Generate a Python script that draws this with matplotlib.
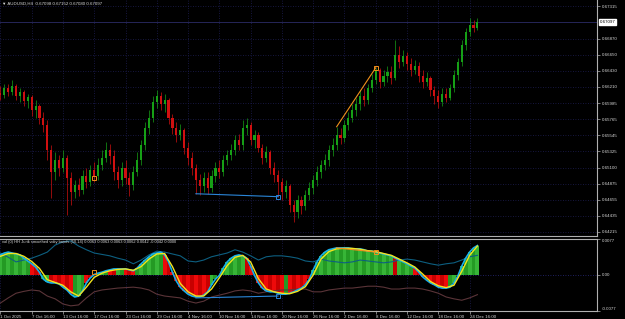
import numpy as np
import matplotlib
matplotlib.use("Agg")
import matplotlib.pyplot as plt
from matplotlib.transforms import blended_transform_factory

plt.rcParams['font.family'] = ['Liberation Sans', 'DejaVu Sans']

# AUDUSD, one candle per 12 hours, prices in pips (x 0.0001)
first_open = 6612
closes = [6610, 6619, 6614, 6622, 6608, 6614, 6601, 6607, 6589, 6595,
          6578, 6569, 6534, 6504, 6520, 6509, 6523, 6496, 6477, 6486,
          6479, 6498, 6490, 6507, 6498, 6514, 6523, 6534, 6526, 6504,
          6493, 6509, 6496, 6486, 6504, 6520, 6541, 6564, 6578, 6600,
          6608, 6597, 6603, 6578, 6564, 6555, 6562, 6537, 6523, 6509,
          6493, 6485, 6496, 6482, 6498, 6509, 6504, 6520, 6527, 6534,
          6548, 6541, 6564, 6569, 6548, 6555, 6537, 6523, 6531, 6509,
          6500, 6490, 6477, 6485, 6459, 6449, 6466, 6457, 6472, 6482,
          6493, 6504, 6514, 6520, 6534, 6541, 6555, 6551, 6569, 6578,
          6589, 6597, 6608, 6603, 6619, 6630, 6644, 6627, 6636, 6641,
          6633, 6665, 6655, 6663, 6652, 6644, 6649, 6636, 6627, 6633,
          6616, 6608, 6600, 6611, 6606, 6619, 6637, 6655, 6678, 6696,
          6706, 6702, 6710]
highs = [6622, 6625, 6625, 6630, 6625, 6619, 6616, 6611, 6610, 6603,
         6597, 6586, 6575, 6541, 6531, 6527, 6534, 6527, 6504, 6493,
         6496, 6507, 6509, 6514, 6518, 6523, 6534, 6545, 6542, 6534,
         6512, 6518, 6520, 6504, 6512, 6531, 6548, 6573, 6589, 6608,
         6616, 6614, 6611, 6606, 6584, 6573, 6570, 6564, 6545, 6531,
         6515, 6501, 6504, 6504, 6507, 6518, 6520, 6527, 6534, 6542,
         6555, 6556, 6575, 6578, 6573, 6562, 6559, 6542, 6540, 6534,
         6518, 6507, 6496, 6493, 6488, 6466, 6472, 6471, 6479, 6490,
         6500, 6512, 6520, 6529, 6541, 6551, 6566, 6564, 6575, 6586,
         6597, 6606, 6616, 6619, 6625, 6638, 6647, 6647, 6644, 6649,
         6649, 6685, 6677, 6671, 6669, 6660, 6658, 6655, 6644, 6641,
         6636, 6622, 6616, 6619, 6619, 6625, 6644, 6660, 6685, 6702,
         6715, 6713, 6715]
lows = [6603, 6606, 6608, 6610, 6603, 6600, 6595, 6592, 6581, 6578,
        6570, 6559, 6520, 6468, 6493, 6498, 6504, 6445, 6459, 6468,
        6471, 6474, 6482, 6485, 6490, 6493, 6507, 6518, 6515, 6493,
        6482, 6485, 6488, 6471, 6479, 6498, 6514, 6534, 6556, 6573,
        6592, 6589, 6586, 6570, 6556, 6545, 6548, 6529, 6514, 6500,
        6474, 6472, 6477, 6474, 6477, 6490, 6496, 6498, 6514, 6520,
        6527, 6534, 6534, 6555, 6541, 6537, 6531, 6515, 6518, 6501,
        6490, 6470, 6466, 6468, 6449, 6435, 6441, 6446, 6452, 6466,
        6474, 6485, 6496, 6507, 6512, 6526, 6534, 6542, 6545, 6562,
        6573, 6581, 6589, 6595, 6597, 6614, 6625, 6619, 6622, 6627,
        6625, 6630, 6647, 6649, 6644, 6636, 6638, 6627, 6619, 6622,
        6608, 6597, 6592, 6595, 6600, 6603, 6614, 6630, 6649, 6671,
        6691, 6696, 6699]

# oscillator, units of 0.0001
hist = [43, 47, 49, 47, 45, 43, 36, 30, 24, 17,
        6, -9, -15, -17, -17, -19, -26, -32, -41, -47,
        -45, -34, -17, -6, 1, 4, 6, 9, 11, 13,
        13, 13, 13, 11, 9, 15, 24, 32, 39, 45,
        47, 49, 43, 28, 6, -13, -26, -34, -41, -45,
        -47, -47, -43, -36, -21, -9, -1, 15, 28, 36,
        41, 43, 41, 36, 19, -1, -17, -28, -34, -36,
        -36, -39, -41, -41, -39, -36, -32, -28, -21, -9,
        11, 28, 41, 49, 54, 56, 58, 58, 58, 58,
        56, 56, 56, 54, 51, 51, 49, 47, 45, 43,
        41, 36, 32, 28, 24, 19, 15, 6, -4, -11,
        -17, -21, -26, -28, -28, -26, -17, -2, 19, 36,
        49, 58, 63]
# colour state of each histogram bar, as runs
hist_runs = [('g', 8), ('r', 3), ('g', 2), ('r', 6), ('g', 3), ('r', 2), ('g', 4),
             ('r', 2), ('g', 2), ('r', 3), ('g', 7), ('r', 12), ('g', 9), ('r', 10),
             ('g', 1), ('r', 6), ('g', 21), ('r', 1), ('g', 4), ('r', 9), ('g', 8)]
# lines sampled on every second candle
signal = [40, 46, 46, 40, 29, 14, -10, -16, -22, -36,
          -45, -26, -5, 4, 9, 12, 13, 10, 18, 34,
          45, 46, 18, -18, -36, -45, -45, -30, -6, 20,
          38, 42, 28, -8, -30, -36, -39, -40, -35, -25,
          0, 34, 50, 56, 57, 57, 55, 52, 50, 46,
          42, 34, 26, 17, 2, -14, -23, -27, -22, 8,
          42, 62]
upper = [47, 38, 28, 32, 36, 42, 49, 64, 71, 73,
         62, 54, 47, 44, 41, 36, 32, 24, 32, 43,
         51, 49, 45, 41, 30, 28, 32, 39, 43, 47,
         54, 49, 41, 32, 39, 41, 41, 39, 36, 30,
         28, 34, 30, 28, 26, 28, 32, 30, 28, 26,
         28, 32, 34, 32, 28, 24, 21, 24, 26, 32,
         39, 42]
lower = [-60, -49, -39, -35, -32, -34, -45, -51, -62, -66,
         -64, -49, -36, -32, -30, -28, -27, -26, -28, -32,
         -41, -45, -47, -49, -56, -60, -56, -47, -43, -39,
         -34, -32, -34, -39, -36, -34, -32, -32, -30, -30,
         -36, -36, -32, -30, -28, -28, -26, -24, -24, -26,
         -30, -30, -28, -28, -30, -34, -39, -47, -51, -54,
         -49, -42]

# divergence marks (candle index, price, oscillator)
bear_bars = [86, 96]
bear_price = [6566, 6647]
bear_osc = [58, 49]
bull_bars = [50, 71]
bull_price = [6474, 6470]
bull_osc = [-49, -45]
lone_bar = 24
lone_price = 6496
lone_osc = 6

price_ticks = [0.67315, 0.66870, 0.66650, 0.66430, 0.66210, 0.65985, 0.65765,
               0.65545, 0.65325, 0.65100, 0.64875, 0.64655, 0.64435, 0.64215]
date_labels = ['1 Oct 2025', '7 Oct 16:00', '13 Oct 16:00', '17 Oct 16:00',
               '23 Oct 16:00', '29 Oct 16:00', '4 Nov 16:00', '10 Nov 16:00',
               '14 Nov 16:00', '20 Nov 16:00', '26 Nov 16:00', '2 Dec 16:00',
               '8 Dec 16:00', '12 Dec 16:00', '18 Dec 16:00', '24 Dec 16:00']
title = '\u25bc AUDUSD,H4  0.67098 0.67152 0.67080 0.67097'
osc_title = 'vol (0) HH Jurik smoothed volty bands (50,14) 0.0063 0.0063 0.0063 0.0062 0.0042 -0.0042 0.0000'
last_price = '0.67097'

# ---- prepare
pip = 1e-4
c = np.array(closes) * pip
h = np.array(highs) * pip
l = np.array(lows) * pip
o = np.concatenate([[first_open * pip], c[:-1]])
idx = np.arange(len(c))
osc = np.array(hist) * pip
idx2 = idx[::2]

GREEN, RED = '#16a016', '#d01010'
TXT = '#d8d8d8'
GRID = '#1e1e55'
EDGE = '#b0b0b0'
FS = 3.2

fig = plt.figure(figsize=(6.25, 3.19), dpi=100, facecolor='black')
W = 597 / 625
ax = fig.add_axes([0, 1 - 236 / 319, W, 236 / 319], facecolor='black')
ax2 = fig.add_axes([0, 8 / 319, W, 72 / 319], facecolor='black')
x_right = -0.1 + 597 / 3.91
per_label = 8
tick_pos = [per_label * k for k in range(len(date_labels))]

# ---- price panel
up = c >= o
cols = np.where(up, GREEN, RED)
ax.vlines(idx, l, h, colors=cols, lw=0.5, zorder=3)
ax.bar(idx, np.where(np.abs(c - o) < 2e-5, 2e-5, c - o), bottom=o, width=0.55,
       color=cols, lw=0, zorder=4)
ax.axhline(c[-1], color='#2c2c66', lw=0.6, zorder=2)

ax.plot(bear_bars, np.array(bear_price) * pip, color='#f0901c', lw=0.8, zorder=5)
ax.plot(bear_bars[-1], bear_price[-1] * pip, 's', ms=2.3, mfc='none', mec='#f0901c', mew=0.7, zorder=6)
ax.plot(bull_bars, np.array(bull_price) * pip, color='#2a86d8', lw=0.8, zorder=5)
ax.plot(bull_bars[-1], bull_price[-1] * pip, 's', ms=2.3, mfc='none', mec='#2a86d8', mew=0.7, zorder=6)
ax.plot(lone_bar, lone_price * pip, 's', ms=2.3, mfc='none', mec='#f0901c', mew=0.7, zorder=6)

ax.set_xlim(-0.1, x_right)
ax.set_ylim(0.6416, 0.6740)
ax.set_yticks(price_ticks)
ax.set_yticklabels(['%.5f' % v for v in price_ticks])
ax.set_xticks(tick_pos)
ax.set_xticklabels([])
ax.yaxis.tick_right()
ax.tick_params(axis='y', colors=EDGE, labelcolor=TXT, labelsize=FS, length=2, width=0.5, pad=1.5)
ax.tick_params(axis='x', length=0)
ax.grid(True, color=GRID, lw=0.6, ls=(0, (1, 2)))
ax.set_axisbelow(True)
for s in ['top', 'left']:
    ax.spines[s].set_visible(False)
for s in ['right', 'bottom']:
    ax.spines[s].set_color(EDGE)
    ax.spines[s].set_linewidth(0.8)
ax.text(0.004, 0.992, title, transform=ax.transAxes, color=TXT, fontsize=FS,
        ha='left', va='top')
tr = blended_transform_factory(ax.transAxes, ax.transData)
ax.text(1.004, c[-1], last_price, transform=tr, color='black', fontsize=FS,
        ha='left', va='center', bbox=dict(facecolor='white', edgecolor='white', pad=0.6))

# ---- oscillator panel
state = ''.join(s * n for s, n in hist_runs)
shade = {'g': ['#37b537', '#249a24'], 'r': ['#ee0a0a', '#c80000']}
bar_cols = [shade[s][i % 2] for i, s in enumerate(state)]
ax2.bar(idx, osc, width=1.0, color=bar_cols, lw=0, zorder=2)
ax2.plot(idx2, np.array(upper) * pip, color='#0d5f80', lw=0.8, zorder=3)
ax2.plot(idx2, np.array(lower) * pip, color='#5a3438', lw=0.8, zorder=3)
ax2.plot(idx, osc, color='#18b0ea', lw=1.2, zorder=4)
ax2.plot(idx2, np.array(signal) * pip, color='#f2e41e', lw=1.0, zorder=5)

ax2.plot(bear_bars, np.array(bear_osc) * pip, color='#f0901c', lw=0.8, zorder=6)
ax2.plot(bear_bars[-1], bear_osc[-1] * pip, 's', ms=2.3, mfc='none', mec='#f0901c', mew=0.7, zorder=7)
ax2.plot(bull_bars, np.array(bull_osc) * pip, color='#2a86d8', lw=0.8, zorder=6)
ax2.plot(bull_bars[-1], bull_osc[-1] * pip, 's', ms=2.3, mfc='none', mec='#2a86d8', mew=0.7, zorder=7)
ax2.plot(lone_bar, lone_osc * pip, 's', ms=2.3, mfc='none', mec='#f0901c', mew=0.7, zorder=7)

ax2.set_xlim(-0.1, x_right)
ax2.set_ylim(-0.0077, 0.0077)
ax2.set_yticks([0.0077, 0.0, -0.0077])
ax2.set_yticklabels(['0.0077', '0.00', '-0.0077'])
ax2.yaxis.tick_right()
ylabs = ax2.get_yticklabels()
ylabs[0].set_va('top')
ylabs[2].set_va('bottom')
ax2.set_xticks(tick_pos)
ax2.set_xticklabels(date_labels)
for lab in ax2.get_xticklabels():
    lab.set_ha('left')
ax2.tick_params(axis='y', colors=EDGE, labelcolor=TXT, labelsize=FS, length=2, width=0.5, pad=1.5)
ax2.tick_params(axis='x', colors=EDGE, labelcolor=TXT, labelsize=FS, length=2, width=0.5, pad=0.8)
ax2.grid(True, axis='x', color=GRID, lw=0.6, ls=(0, (1, 2)))
ax2.axhline(0, color='#2a2a80', lw=0.6, ls=(0, (1, 2)), zorder=1)
ax2.set_axisbelow(True)
ax2.spines['left'].set_visible(False)
for s in ['top', 'right', 'bottom']:
    ax2.spines[s].set_color(EDGE)
    ax2.spines[s].set_linewidth(0.8)
ax2.text(0.003, 0.985, osc_title, transform=ax2.transAxes, color=TXT, fontsize=FS - 0.3,
         ha='left', va='top', zorder=8)

fig.savefig('out.png', dpi=100, facecolor='black')
